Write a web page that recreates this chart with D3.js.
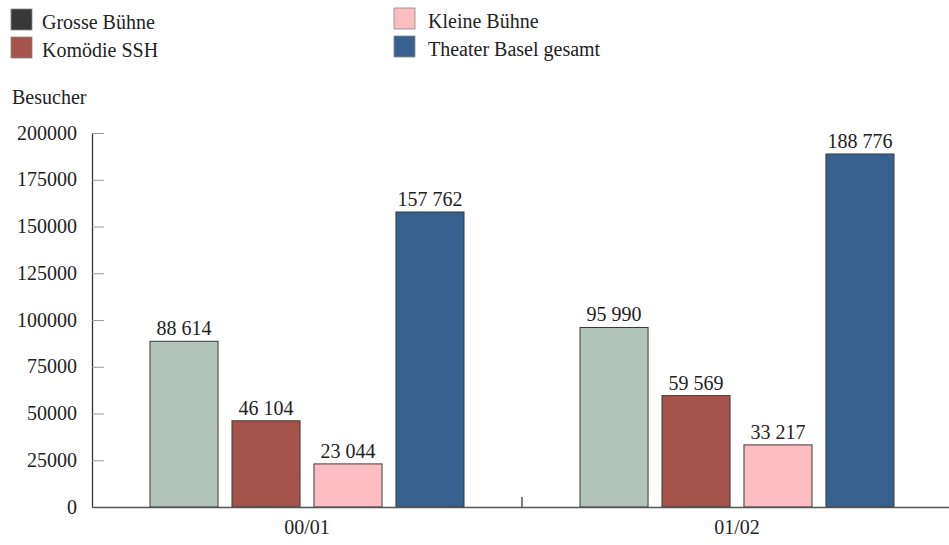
<!DOCTYPE html>
<html lang="de">
<head>
	<meta charset="UTF-8">
	<title>Besucher Theater Basel</title>
	<script src="https://cdn.jsdelivr.net/npm/d3@7/dist/d3.min.js"></script>
	<style>
		html,body{
			margin:0;
			padding:0;
			background:#fff;
		}
		svg{
			display:block;
			font-family:"Liberation Serif","DejaVu Serif",serif;
		}
		.axis text{
			font-family:"Liberation Serif",serif;
			font-size:20px;
			fill:#222;
		}
	</style>
</head>
<body>
	<svg id="svg" width="949" height="545"></svg>
	<script>
		// data
		var seasons = ["00/01", "01/02"];
		var series = ["Grosse Bühne", "Komödie SSH", "Kleine Bühne", "Theater Basel gesamt"];
		var grosseBuehne = [88614, 95990];
		var komoedieSSH = [46104, 59569];
		var kleineBuehne = [23044, 33217];
		var theaterGesamt = [157762, 188776];
		var yTicks = [0, 25000, 50000, 75000, 100000, 125000, 150000, 175000, 200000];

		var barColors = ["#b3c4bb", "#a5534b", "#fbbdc1", "#37628f"];
		var legendColors = ["#383838", "#a5534b", "#fbbdc1", "#37628f"];

		var values = [grosseBuehne, komoedieSSH, kleineBuehne, theaterGesamt];
		var table = seasons.map(function(s, i){
			return {season: s, vals: series.map(function(name, j){ return {name: name, idx: j, v: values[j][i]}; })};
		});

		var svg = d3.select("svg");
		var fmt = d3.formatLocale({decimal: ",", thousands: " ", grouping: [3], currency: ["", ""]}).format(",d");

		var y = d3.scaleLinear().domain([0, 200000]).range([507, 133]);
		var x0 = d3.scaleBand().domain(seasons).range([92, 952]);
		var x1 = d3.scaleBand().domain(series).range([58, 372]).paddingInner(0.17);

		// y axis
		var yAxis = d3.axisLeft(y)
			.tickValues(yTicks)
			.tickFormat(d3.format("d"))
			.tickSizeInner(-12)
			.tickSizeOuter(0)
			.tickPadding(15);
		var gy = svg.append("g").attr("class", "axis").attr("transform", "translate(92,0)").call(yAxis);
		gy.select(".domain").attr("stroke", "#333").attr("stroke-width", 1.3);
		gy.selectAll(".tick line").attr("stroke", "#999");
		gy.selectAll(".tick text").attr("dy", "0.3em");

		svg.append("text")
			.attr("x", 12).attr("y", 104)
			.attr("font-size", 20).attr("fill", "#222")
			.text("Besucher");

		// bars
		var groups = svg.selectAll("g.grp")
			.data(table)
			.enter().append("g")
			.attr("class", "grp")
			.attr("transform", function(d){ return "translate(" + x0(d.season) + ",0)"; });

		groups.selectAll("rect")
			.data(function(d){ return d.vals; })
			.enter().append("rect")
			.attr("x", function(d){ return x1(d.name); })
			.attr("y", function(d){ return y(d.v); })
			.attr("width", x1.bandwidth())
			.attr("height", function(d){ return y(0) - y(d.v); })
			.attr("fill", function(d){ return barColors[d.idx]; })
			.attr("stroke", "#3a3a3a")
			.attr("stroke-width", 1);

		groups.selectAll("text.val")
			.data(function(d){ return d.vals; })
			.enter().append("text")
			.attr("class", "val")
			.attr("x", function(d){ return x1(d.name) + x1.bandwidth() / 2; })
			.attr("y", function(d){ return y(d.v) - 6; })
			.attr("text-anchor", "middle")
			.attr("font-size", 20)
			.attr("fill", "#222")
			.text(function(d){ return fmt(d.v); });

		// x axis
		var xAxis = d3.axisBottom(x0).tickSize(0).tickPadding(12);
		var gx = svg.append("g").attr("class", "axis").attr("transform", "translate(0,507)").call(xAxis);
		gx.select(".domain").attr("stroke", "#555").attr("stroke-width", 1.3);
		gx.selectAll(".tick text").attr("dy", "0.75em");
		gx.append("line")
			.attr("x1", x0("01/02")).attr("x2", x0("01/02"))
			.attr("y1", -10).attr("y2", 0)
			.attr("stroke", "#333").attr("stroke-width", 1.3);

		// legend
		var legendPos = [[11, 9], [11, 37], [394, 8], [394, 36]];
		var lg = svg.selectAll("g.leg")
			.data(series)
			.enter().append("g")
			.attr("class", "leg")
			.attr("transform", function(d, i){ return "translate(" + legendPos[i][0] + "," + legendPos[i][1] + ")"; });
		lg.append("rect")
			.attr("width", 21).attr("height", 21)
			.attr("fill", function(d, i){ return legendColors[i]; })
			.attr("stroke", "#888").attr("stroke-width", 0.8);
		lg.append("text")
			.attr("x", function(d, i){ return i < 2 ? 31 : 34; })
			.attr("y", 20)
			.attr("font-size", 20)
			.attr("fill", "#222")
			.text(function(d){ return d; });
	</script>
</body>
</html>
